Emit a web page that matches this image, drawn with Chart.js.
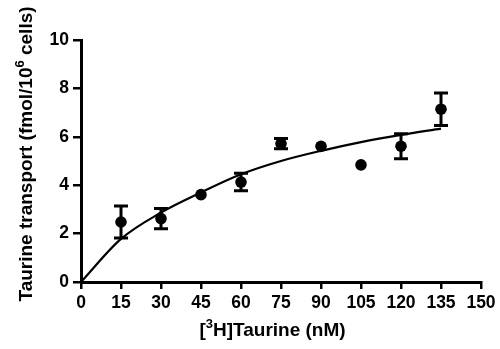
<!DOCTYPE html>
<html>
<head>
<meta charset="utf-8">
<script src="https://cdn.jsdelivr.net/npm/chart.js@4/dist/chart.umd.min.js"></script>
<style>
html,body{margin:0;padding:0;background:#fff;}
#wrap{width:500px;height:349px;position:relative;}
</style>
</head>
<body>
<div id="wrap"><canvas id="c" width="500" height="349"></canvas></div>
<script>
// Measured points (mean ± error)
const concentrations = [15, 30, 45, 60, 75, 90, 105, 120, 135];
const transport      = [2.48, 2.62, 3.61, 4.13, 5.72, 5.61, 4.84, 5.61, 7.14];
const transportErr   = [0.66, 0.42, 0, 0.36, 0.21, 0, 0, 0.52, 0.67];

// Fitted saturation curve
const fitX = [0, 15, 30, 45, 60, 75, 90, 105, 120, 135];
const fitY = [0, 1.78, 2.87, 3.70, 4.45, 5.00, 5.42, 5.78, 6.08, 6.34];

// Axis ticks
const xTicks = [0, 15, 30, 45, 60, 75, 90, 105, 120, 135, 150];
const yTicks = [0, 2, 4, 6, 8, 10];

const FONT = "'Liberation Sans', Arial, sans-serif";

const errorBars = {
  id: 'errorBars',
  afterDatasetsDraw(chart) {
    const xs = chart.scales.x, ys = chart.scales.y, ctx = chart.ctx;
    ctx.save();
    ctx.strokeStyle = '#000';
    ctx.lineWidth = 3;
    concentrations.forEach((c, i) => {
      const e = transportErr[i];
      if (!e) return;
      const px = xs.getPixelForValue(c);
      const top = ys.getPixelForValue(transport[i] + e);
      const bot = ys.getPixelForValue(transport[i] - e);
      ctx.beginPath();
      ctx.moveTo(px, top); ctx.lineTo(px, bot);
      ctx.moveTo(px - 7, top); ctx.lineTo(px + 7, top);
      ctx.moveTo(px - 7, bot); ctx.lineTo(px + 7, bot);
      ctx.stroke();
    });
    ctx.restore();
  }
};

function drawRich(ctx, parts, x, y, align) {
  const big = "bold 19px " + FONT, small = "bold 13px " + FONT;
  let w = 0;
  parts.forEach(p => { ctx.font = p[1] ? small : big; w += ctx.measureText(p[0]).width; });
  let cx = align === 'center' ? x - w / 2 : x;
  parts.forEach(p => {
    ctx.font = p[1] ? small : big;
    ctx.fillText(p[0], cx, p[1] ? y - 8 : y);
    cx += ctx.measureText(p[0]).width;
  });
}

const axisTitles = {
  id: 'axisTitles',
  afterDraw(chart) {
    const ctx = chart.ctx;
    ctx.save();
    ctx.fillStyle = '#000';
    ctx.textBaseline = 'alphabetic';
    ctx.textAlign = 'left';
    drawRich(ctx, [['[', false], ['3', true], ['H]Taurine (nM)', false]], 272.5, 336, 'center');
    ctx.translate(32, 154);
    ctx.rotate(-Math.PI / 2);
    drawRich(ctx, [['Taurine transport (fmol/10', false], ['6', true], [' cells)', false]], 0, 0, 'center');
    ctx.restore();
  }
};

new Chart(document.getElementById('c'), {
  type: 'scatter',
  data: {
    datasets: [
      {
        label: 'fit',
        data: fitX.map((x, i) => ({x, y: fitY[i]})),
        showLine: true,
        borderColor: '#000',
        borderWidth: 2.2,
        pointRadius: 0,
        cubicInterpolationMode: 'monotone',
        fill: false
      },
      {
        label: 'data',
        data: concentrations.map((x, i) => ({x, y: transport[i]})),
        pointRadius: 5.8,
        pointBackgroundColor: '#000',
        pointBorderColor: '#000',
        borderWidth: 0,
        showLine: false
      }
    ]
  },
  options: {
    responsive: false,
    animation: false,
    events: [],
    layout: { padding: { top: 40, right: 19, left: 0, bottom: 0 } },
    plugins: { legend: { display: false }, tooltip: { enabled: false } },
    scales: {
      x: {
        type: 'linear', min: 0, max: 150,
        afterBuildTicks: s => { s.ticks = xTicks.map(v => ({value: v})); },
        afterFit: s => { s.height = 67; },
        grid: { drawOnChartArea: false, color: '#000', tickLength: 7, lineWidth: 2.5 },
        border: { display: true, color: '#000', width: 3 },
        ticks: { color: '#000', font: { family: FONT, size: 17.5, weight: 'bold' }, padding: 4, maxRotation: 0, autoSkip: false }
      },
      y: {
        type: 'linear', min: 0, max: 10,
        afterBuildTicks: s => { s.ticks = yTicks.map(v => ({value: v})); },
        afterFit: s => { s.width = 81; },
        grid: { drawOnChartArea: false, color: '#000', tickLength: 8, lineWidth: 2.5 },
        border: { display: true, color: '#000', width: 3 },
        ticks: { color: '#000', font: { family: FONT, size: 17.5, weight: 'bold' }, padding: 4 }
      }
    }
  },
  plugins: [errorBars, axisTitles]
});
</script>
</body>
</html>
